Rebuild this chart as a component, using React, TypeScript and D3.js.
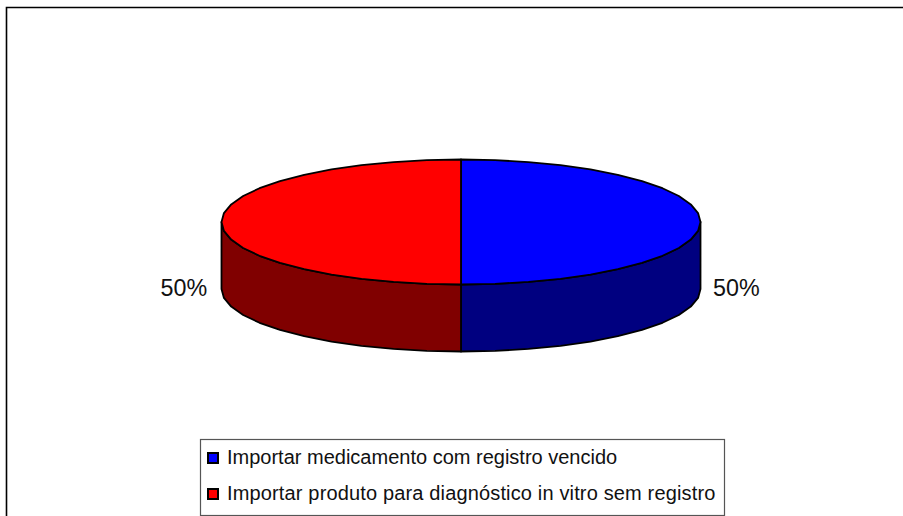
import React from "react";
import * as d3 from "d3";

const categories = ["Importar medicamento com registro vencido", "Importar produto para diagnóstico in vitro sem registro"];
const values = [50, 50];
const percentLabels = ["50%", "50%"];
const topColors = ["#0000ff", "#ff0000"];
const sideColors = ["#000080", "#800000"];

const W = 903, H = 516;
const cx = 461, cy = 222, rx = 239.5, ry = 62.5, depth = 67;
const legendSpacing = [0, 0.15];

const px = (a: number) => cx + rx * Math.sin(a);
const py = (a: number) => cy - ry * Math.cos(a);
const samples = (a0: number, a1: number, n: number) => d3.range(n + 1).map(i => a0 + (a1 - a0) * i / n);
const line = d3.line<[number, number]>();

export default function App() {
  const slices = d3.pie<number>().sort(null)(values);
  return (
    <svg width={W} height={H} viewBox={`0 0 ${W} ${H}`} style={{ position: "absolute", left: 0, top: 0, background: "#fff" }}>
      <path d={`M6.5,${H}V7.5H${W}`} fill="none" stroke="#000" strokeWidth={1.6} />
      {slices.map((s, i) => {
        const a0 = Math.max(s.startAngle, Math.PI / 2);
        const a1 = Math.min(s.endAngle, (3 * Math.PI) / 2);
        const rim = samples(a0, a1, 11).map(a => [px(a), py(a)] as [number, number]);
        const low = rim.slice().reverse().map(([x, y]) => [x, y + depth] as [number, number]);
        return <path key={"side" + i} d={line([...rim, ...low]) + "Z"} fill={sideColors[i]} stroke="#000" strokeWidth={1.8} strokeLinejoin="round" />;
      })}
      {slices.map((s, i) => {
        const pts = samples(s.startAngle, s.endAngle, 22).map(a => [px(a), py(a)] as [number, number]);
        return <path key={"top" + i} d={line([[cx, cy], ...pts]) + "Z"} fill={topColors[i]} stroke="#000" strokeWidth={1.8} strokeLinejoin="round" />;
      })}
      <g fontFamily="'Liberation Sans', Arial, sans-serif" fill="#111" fontSize={23.3}>
        <text x={713} y={296}>{percentLabels[0]}</text>
        <text x={160.5} y={296}>{percentLabels[1]}</text>
      </g>
      <rect x={200.5} y={439.5} width={524} height={76} fill="#fff" stroke="#555" strokeWidth={1.2} />
      {categories.map((c, i) => (
        <g key={c}>
          <rect x={208} y={453 + i * 36} width={10} height={10} fill={topColors[i]} stroke="#000" strokeWidth={2} />
          <text x={227} y={464 + i * 36} fontSize={20} letterSpacing={legendSpacing[i]} fontFamily="'Liberation Sans', Arial, sans-serif" fill="#111">{c}</text>
        </g>
      ))}
    </svg>
  );
}
